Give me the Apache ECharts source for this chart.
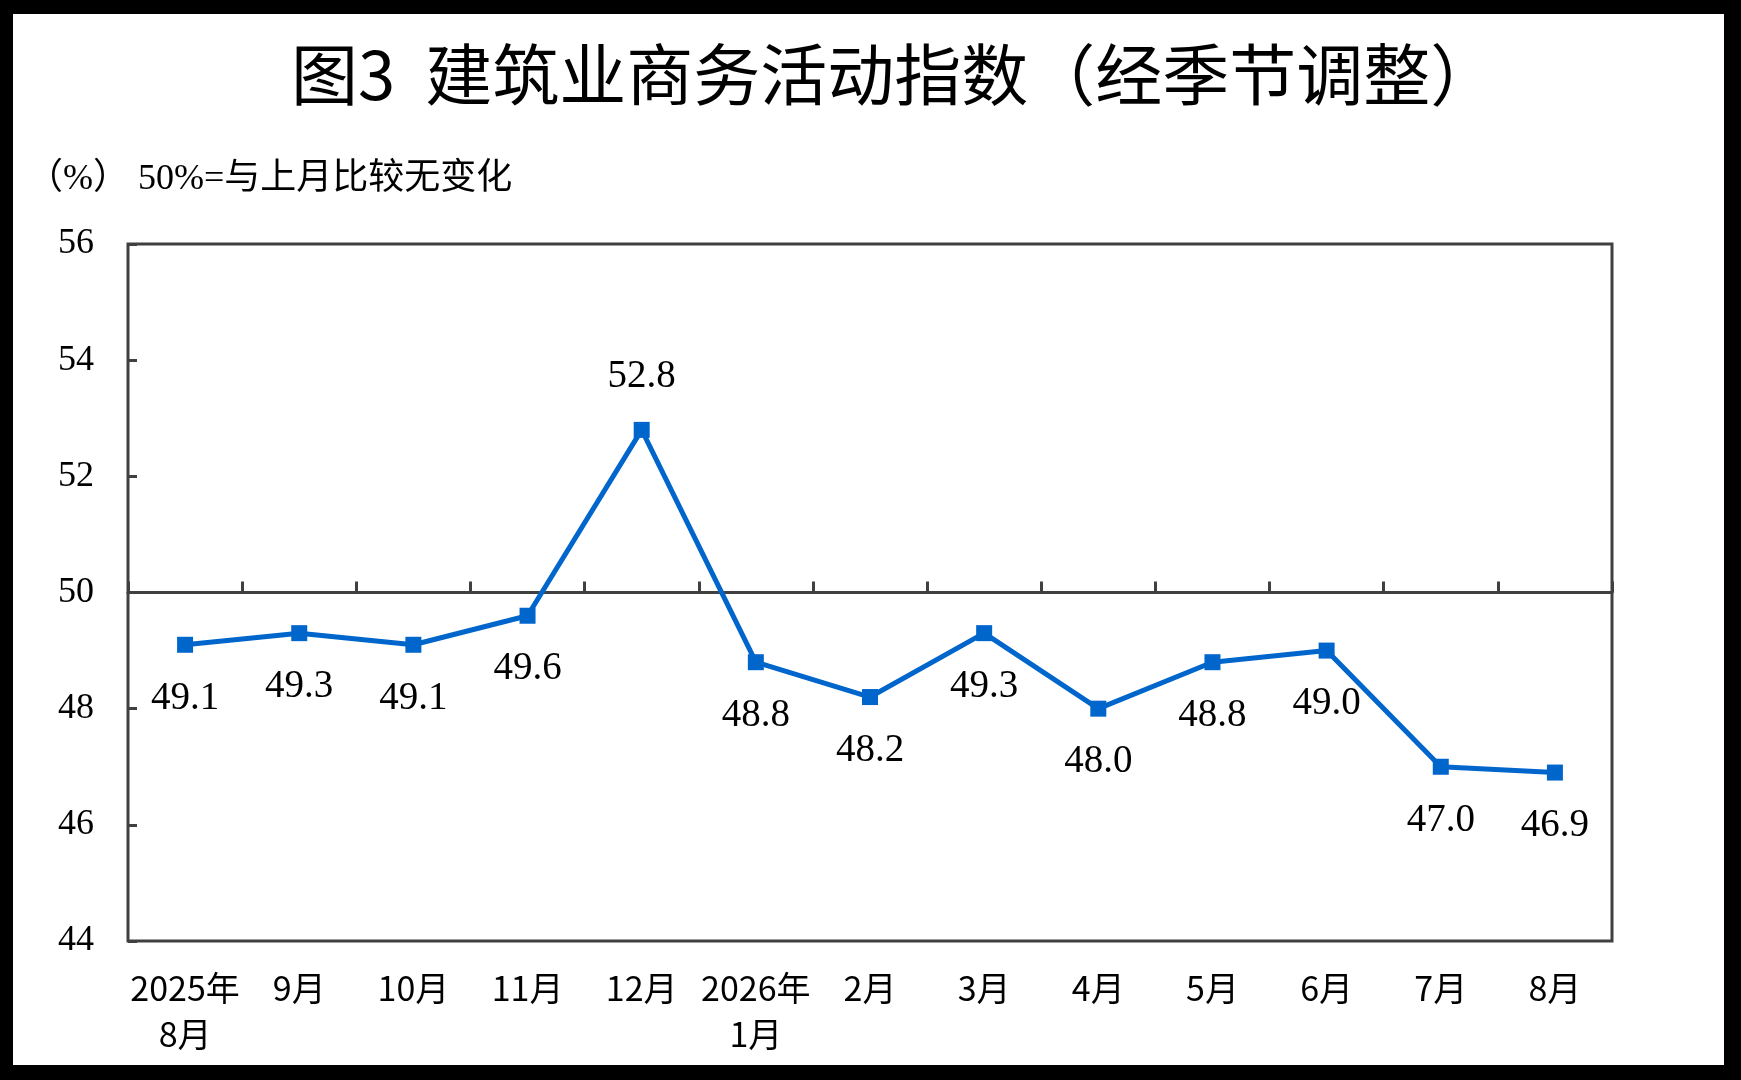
<!DOCTYPE html>
<html>
<head>
<meta charset="utf-8">
<script src="https://cdn.jsdelivr.net/npm/echarts@6/dist/echarts.min.js"></script>
<style>
  html, body { margin: 0; padding: 0; background: #000; }
  #chart { position: absolute; left: 13px; top: 14px; width: 1711px; height: 1051px; background: #fff; }
</style>
</head>
<body>
<div id="chart"></div>
<script>
// 月份
const months = ['2025年\n8月', '9月', '10月', '11月', '12月', '2026年\n1月', '2月', '3月', '4月', '5月', '6月', '7月', '8月'];
// 建筑业商务活动指数（经季节调整）
const indexValues = [49.1, 49.3, 49.1, 49.6, 52.8, 48.8, 48.2, 49.3, 48.0, 48.8, 49.0, 47.0, 46.9];
// 标签在上方的点
const labelAbove = [4];
const yTicks = { min: 44, max: 56, interval: 2 };

const chart = echarts.init(document.getElementById('chart'));

const gridTop = 230, gridHeight = 697;
const serif = '"Liberation Serif", "Times New Roman", "Noto Sans CJK SC", serif';
const axisColor = '#404040';

const option = {
    animation: false,
    title: {
        text: '图3  建筑业商务活动指数（经季节调整）',
        left: 278,
        top: 27,
        padding: 0,
        textStyle: {
            fontFamily: '"Noto Sans CJK SC", sans-serif',
            fontSize: 67,
            fontWeight: 'normal',
            color: '#000'
        }
    },
    graphic: [{
        type: 'text',
        left: 14,
        top: 148,
        style: {
            text: '（%） 50%=与上月比较无变化',
            font: '36px ' + serif,
            fill: '#000'
        }
    }],
    grid: {
        left: 115,
        top: gridTop,
        width: 1484,
        height: gridHeight,
        show: true,
        borderColor: axisColor,
        borderWidth: 3,
        backgroundColor: 'transparent'
    },
    xAxis: [
        {
            type: 'category',
            data: months,
            boundaryGap: true,
            axisLine: { show: false },
            axisTick: { show: false },
            axisLabel: {
                margin: 24,
                interval: 0,
                fontFamily: '"Noto Sans CJK SC", sans-serif',
                fontSize: 34,
                lineHeight: 46,
                color: '#000'
            }
        },
        {
            // 50% 基准线
            type: 'category',
            data: months,
            boundaryGap: true,
            position: 'bottom',
            offset: -gridHeight / 2,
            axisLine: { show: true, lineStyle: { color: axisColor, width: 3 } },
            axisTick: { show: true, inside: true, length: 11, lineStyle: { color: axisColor, width: 3 } },
            axisLabel: { show: false }
        }
    ],
    yAxis: {
        type: 'value',
        min: yTicks.min,
        max: yTicks.max,
        interval: yTicks.interval,
        axisLine: { show: false },
        axisTick: { show: true, inside: true, length: 9, lineStyle: { color: axisColor, width: 3 } },
        splitLine: { show: false },
        axisLabel: {
            margin: 34,
            fontFamily: serif,
            fontSize: 36,
            color: '#000'
        }
    },
    series: [{
        type: 'line',
        xAxisIndex: 0,
        data: indexValues.map((v, i) => ({
            value: v,
            label: { position: labelAbove.includes(i) ? 'top' : 'bottom' }
        })),
        symbol: 'rect',
        symbolSize: 16,
        lineStyle: { color: '#0066CC', width: 5 },
        itemStyle: { color: '#0066CC' },
        label: {
            show: true,
            distance: 26,
            fontFamily: serif,
            fontSize: 39,
            color: '#000',
            formatter: p => p.value.toFixed(1)
        }
    }]
};

chart.setOption(option);
</script>
</body>
</html>
